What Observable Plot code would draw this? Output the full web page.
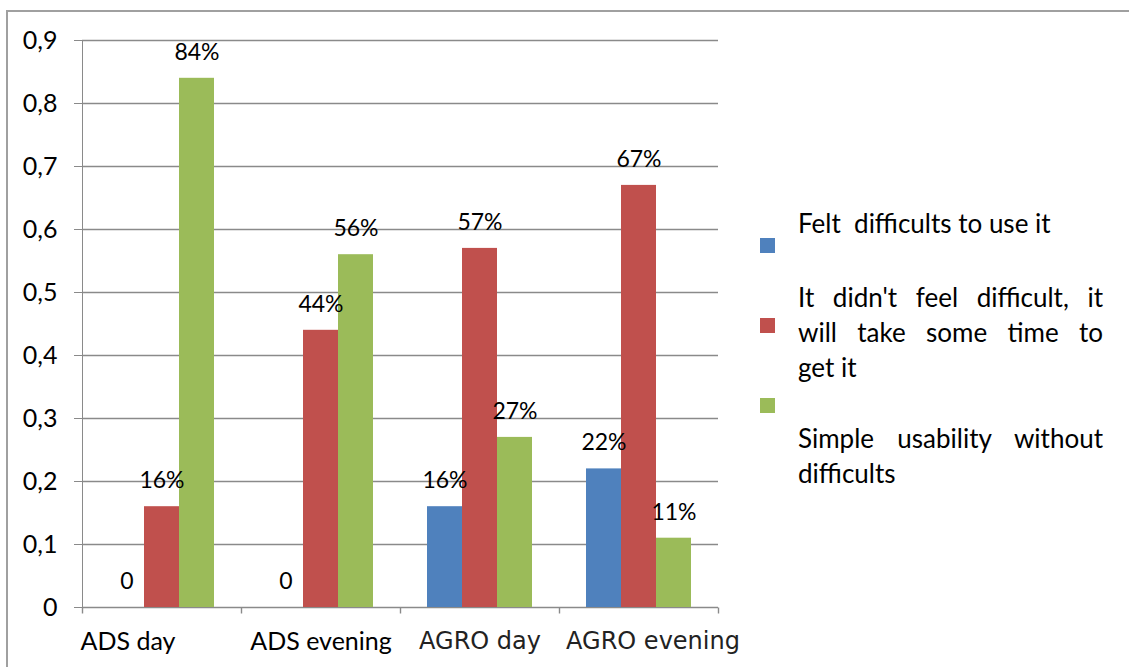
<!DOCTYPE html>
<html><head><meta charset="utf-8">
<script src="https://cdn.jsdelivr.net/npm/d3@7"></script>
<script src="https://cdn.jsdelivr.net/npm/@observablehq/plot@0.6"></script>
<style>
body{margin:0;background:#fff;}
#wrap{position:relative;width:1129px;height:667px;overflow:hidden;font-family:Lato,sans-serif;background:#fff;}
#border{position:absolute;left:6px;top:10px;width:2000px;height:2000px;border-left:2px solid #a0a0a0;border-top:2px solid #a0a0a0;box-sizing:border-box;}
#chart{position:absolute;left:0;top:0;}
#chart g[aria-label="y-axis tick label"]{fill:#000;}
.sw{position:absolute;width:15px;height:15px;}
.ln{position:absolute;left:798px;width:305px;height:35px;line-height:35px;font-size:26px;color:#000;white-space:pre;}
.j{text-align:justify;text-align-last:justify;white-space:normal;}
</style></head><body>
<div id="wrap"><div id="border"></div><div id="chart"></div><div id="legend"></div></div>
<script>
const categories = ["ADS day", "ADS evening", "AGRO day", "AGRO evening"];
const seriesNames = ["Felt  difficults to use it", "It didn't feel difficult, it will take some time to get it", "Simple usability without difficults"];
const feltDifficult = [0, 0, 0.16, 0.22];
const notDifficult = [0.16, 0.44, 0.57, 0.67];
const simpleUsability = [0.84, 0.56, 0.27, 0.11];
const seriesColors = ["#4F81BD", "#C0504D", "#9BBB59"];
const yTicks = [0, 0.1, 0.2, 0.3, 0.4, 0.5, 0.6, 0.7, 0.8, 0.9];
const yTickLabels = ["0", "0,1", "0,2", "0,3", "0,4", "0,5", "0,6", "0,7", "0,8", "0,9"];

const seriesValues = [feltDifficult, notDifficult, simpleUsability];
const rows = [];
categories.forEach((c, i) => seriesNames.forEach((s, j) => rows.push({category: c, series: s, value: seriesValues[j][i]})));
const fmt = v => v === 0 ? "0" : Math.round(v * 100) + "%";
const grid = "#8a8a8a";
const tickSym = {draw(ctx, size) { const l = Math.sqrt(size / Math.PI); ctx.moveTo(0, 0); ctx.lineTo(0, l); }};
const lab = (cats, opts) => Plot.text(cats, {fx: d => d, frameAnchor: "bottom", text: d => d, dy: 34, lineAnchor: "middle", fill: "#000", fontSize: 25, ...opts});

const chart = Plot.plot({
  width: 1129, height: 667,
  marginLeft: 82, marginRight: 411, marginTop: 40, marginBottom: 60,
  style: {fontFamily: "Lato, sans-serif", fontSize: "25px", color: grid, background: "transparent", overflow: "visible"},
  fx: {domain: categories, padding: 0, axis: null},
  x: {domain: seriesNames, paddingInner: 0, paddingOuter: 0.77, axis: null},
  y: {domain: [0, 0.9], ticks: yTicks, tickFormat: d => yTickLabels[yTicks.indexOf(d)], tickSize: 8, tickPadding: 17, line: true, label: null},
  color: {domain: seriesNames, range: seriesColors},
  marks: [
    Plot.ruleY(yTicks, {stroke: grid, strokeWidth: 1.4}),
    Plot.barY(rows, {fx: "category", x: "series", y: "value", fill: "series"}),
    Plot.text(rows, {fx: "category", x: "series", y: "value", text: d => fmt(d.value), dy: -26, lineAnchor: "middle", fill: "#000", fontSize: 23}),
    Plot.dot(categories, {fx: d => d, frameAnchor: "bottom-left", symbol: tickSym, r: 6, stroke: grid, fill: "none", strokeWidth: 1.4}),
    Plot.dot(categories.slice(-1), {fx: d => d, frameAnchor: "bottom-right", symbol: tickSym, r: 6, stroke: grid, fill: "none", strokeWidth: 1.4}),
    lab([categories[0]], {frameAnchor: "bottom-left", textAnchor: "start", dx: -2}),
    lab([categories[1]], {}),
    lab([categories[2]], {fontFamily: "DejaVu Sans", fontSize: 24, fill: "#222"}),
    lab([categories[3]], {fontFamily: "DejaVu Sans", fontSize: 24, fill: "#222", dx: 14})
  ]
});
document.getElementById("chart").appendChild(chart);

// legend
const legend = document.getElementById("legend");
const legendLayout = [
  {sw: 238, lines: [[223, seriesNames[0], false]]},
  {sw: 318, lines: [[297, "It didn't feel difficult, it", true], [332, "will take some time to", true], [367, "get it", false]]},
  {sw: 398, lines: [[438, "Simple usability without", true], [473, "difficults", false]]}
];
legendLayout.forEach((item, i) => {
  const sq = document.createElement("div");
  sq.className = "sw"; sq.style.left = "760px"; sq.style.top = item.sw + "px"; sq.style.background = seriesColors[i];
  legend.appendChild(sq);
  item.lines.forEach(([cy, t, just]) => {
    const d = document.createElement("div");
    d.className = "ln" + (just ? " j" : "");
    d.style.top = (cy - 17.5) + "px";
    d.textContent = t;
    legend.appendChild(d);
  });
});
</script>
</body></html>
